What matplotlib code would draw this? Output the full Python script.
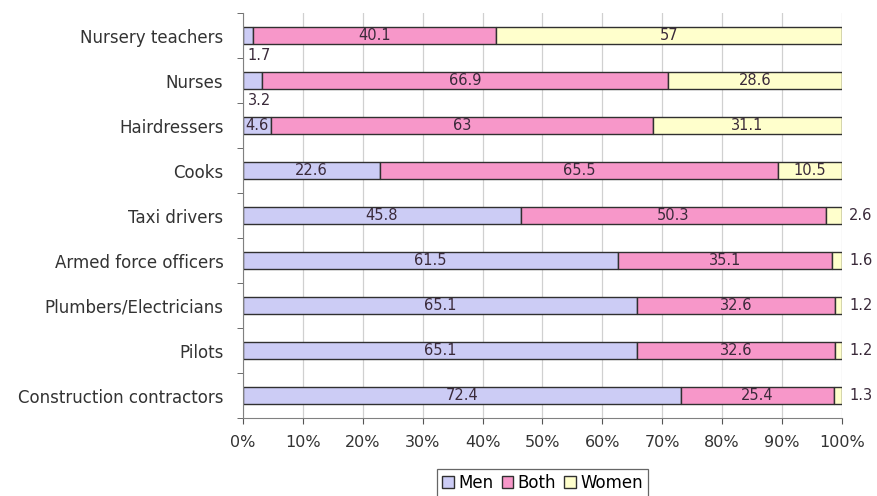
import numpy as np
import matplotlib.pyplot as plt

jobs = ["Nursery teachers", "Nurses", "Hairdressers", "Cooks", "Taxi drivers",
        "Armed force officers", "Plumbers/Electricians", "Pilots",
        "Construction contractors"]
men = [1.7, 3.2, 4.6, 22.6, 45.8, 61.5, 65.1, 65.1, 72.4]
both = [40.1, 66.9, 63, 65.5, 50.3, 35.1, 32.6, 32.6, 25.4]
women = [57, 28.6, 31.1, 10.5, 2.6, 1.6, 1.2, 1.2, 1.3]

plt.rcParams['font.family'] = ['DejaVu Sans']

# 100% stacked: scale each row to its own total
tot = np.array(men) + np.array(both) + np.array(women)
m_s = np.array(men) / tot * 100
b_s = np.array(both) / tot * 100
w_s = np.array(women) / tot * 100

fig = plt.figure(figsize=(8.77, 4.96), dpi=100)
ax = fig.add_axes([0.277, 0.157, 0.683, 0.816])

y = np.arange(len(jobs))
h = 0.38
edge = dict(edgecolor='#303030', linewidth=1.0)
ax.barh(y, m_s, height=h, color='#ccccf5', label='Men', **edge)
ax.barh(y, b_s, left=m_s, height=h, color='#f797c9', label='Both', **edge)
ax.barh(y, w_s, left=m_s + b_s, height=h, color='#ffffcc', label='Women', **edge)

fs = 10.5
col = '#3a2a3a'
txt = dict(fontsize=fs, color=col, va='center', ha='center')
for i in range(len(jobs)):
    if men[i] < 4:
        ax.text(0.8, y[i] + 0.44, f"{men[i]:g}", ha='left', va='center',
                fontsize=fs, color=col)
    else:
        ax.text(m_s[i] / 2, y[i], f"{men[i]:g}", **txt)
    ax.text(m_s[i] + b_s[i] / 2, y[i], f"{both[i]:g}", **txt)
    if women[i] < 5:
        ax.text(101.2, y[i], f"{women[i]:g}", ha='left', va='center',
                fontsize=fs, color=col, clip_on=False)
    else:
        ax.text(m_s[i] + b_s[i] + w_s[i] / 2, y[i], f"{women[i]:g}", **txt)

ax.set_ylim(len(jobs) - 0.5, -0.5)
ax.set_yticks(y)
ax.set_yticklabels(jobs, fontsize=12, color='#333333')
ax.set_yticks(np.arange(-0.5, len(jobs)), minor=True)
ax.tick_params(axis='y', which='major', length=0, pad=14)
ax.tick_params(axis='y', which='minor', length=4, direction='out', color='#555555')

ax.set_xlim(0, 100)
ax.set_xticks(np.arange(0, 101, 10))
ax.set_xticklabels([f"{v}%" for v in range(0, 101, 10)], fontsize=11.5, color='#333333')
ax.tick_params(axis='x', length=4, direction='out', color='#555555', pad=8)
ax.grid(axis='x', color='#d0d0d0', linewidth=0.9)
ax.set_axisbelow(True)

for s in ['top', 'right']:
    ax.spines[s].set_visible(False)
for s in ['left', 'bottom']:
    ax.spines[s].set_color('#808080')

leg = ax.legend(loc='upper center', bbox_to_anchor=(0.5, -0.126), ncol=3,
                frameon=True, fancybox=False, fontsize=12, handlelength=0.7,
                handleheight=0.7, handletextpad=0.25, columnspacing=0.5,
                borderpad=0.3, borderaxespad=0, edgecolor='#404040')
leg.get_frame().set_linewidth(0.9)

fig.savefig("out.png", dpi=100)
